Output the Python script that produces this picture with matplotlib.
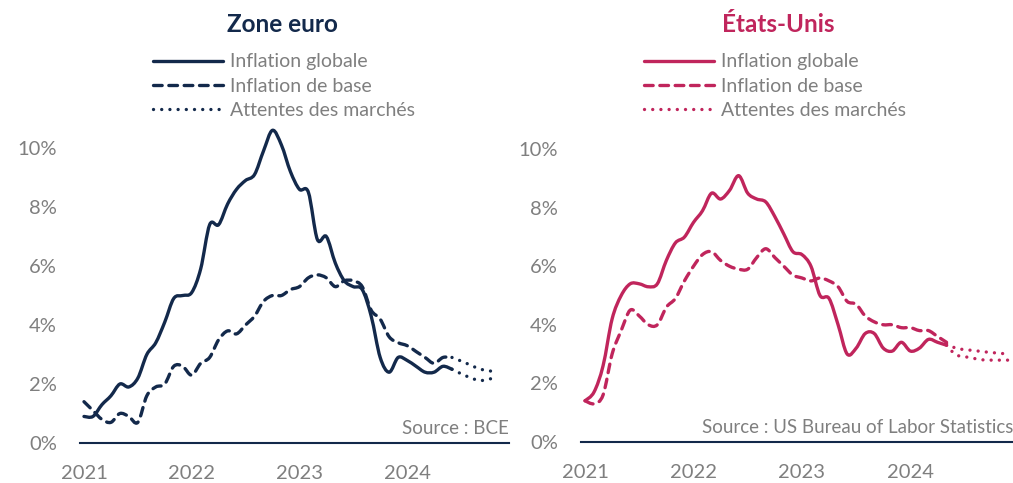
import matplotlib
matplotlib.use("Agg")
import matplotlib.pyplot as plt
from matplotlib.lines import Line2D
from matplotlib.path import Path
from matplotlib.patches import PathPatch
import numpy as np

plt.rcParams['font.family'] = ['Lato', 'DejaVu Sans']

# Monthly data, Jan 2021 onwards
ez_headline = [0.9, 0.9, 1.3, 1.6, 2.0, 1.9, 2.2, 3.0, 3.4, 4.1, 4.9, 5.0,
               5.1, 5.9, 7.4, 7.4, 8.1, 8.6, 8.9, 9.1, 9.9, 10.6, 10.1, 9.2,
               8.6, 8.5, 6.9, 7.0, 6.1, 5.5, 5.3, 5.2, 4.3, 2.9, 2.4, 2.9,
               2.8, 2.6, 2.4, 2.4, 2.6, 2.5]
ez_core = [1.4, 1.1, 0.8, 0.7, 1.0, 0.9, 0.7, 1.6, 1.9, 2.0, 2.6, 2.6,
           2.3, 2.7, 2.9, 3.5, 3.8, 3.7, 4.0, 4.3, 4.8, 5.0, 5.0, 5.2,
           5.3, 5.6, 5.7, 5.6, 5.3, 5.5, 5.5, 5.3, 4.5, 4.2, 3.6, 3.4,
           3.3, 3.1, 2.9, 2.7, 2.9, 2.9]
# market expectations, Jun 2024 -> Nov 2024
ez_exp_headline = [2.5, 2.35, 2.22, 2.12, 2.15, 2.25]
ez_exp_core = [2.9, 2.78, 2.65, 2.52, 2.45, 2.42]

us_headline = [1.4, 1.7, 2.6, 4.2, 5.0, 5.4, 5.4, 5.3, 5.4, 6.2, 6.8, 7.0,
               7.5, 7.9, 8.5, 8.3, 8.6, 9.1, 8.5, 8.3, 8.2, 7.7, 7.1, 6.5,
               6.4, 6.0, 5.0, 4.9, 4.0, 3.0, 3.2, 3.7, 3.7, 3.2, 3.1, 3.4,
               3.1, 3.2, 3.5, 3.4, 3.3]
us_core = [1.4, 1.3, 1.6, 3.0, 3.8, 4.5, 4.3, 4.0, 4.0, 4.6, 4.9, 5.5,
           6.0, 6.4, 6.5, 6.2, 6.0, 5.9, 5.9, 6.3, 6.6, 6.3, 6.0, 5.7,
           5.6, 5.5, 5.6, 5.5, 5.3, 4.8, 4.7, 4.3, 4.1, 4.0, 4.0, 3.9,
           3.9, 3.8, 3.8, 3.6, 3.4]
# market expectations, May 2024 -> Dec 2024
us_exp_headline = [3.3, 2.98, 2.91, 2.85, 2.8, 2.79, 2.79, 2.79]
us_exp_core = [3.35, 3.2, 3.15, 3.12, 3.08, 3.05, 3.02, 3.0]

years = [2021, 2022, 2023, 2024]
yticks = [0, 2, 4, 6, 8, 10]

NAVY = "#13294b"
CRIMSON = "#c0255c"
GRAY = "#7f7f7f"

W, H = 1013, 483
fig = plt.figure(figsize=(W / 100, H / 100), dpi=100)

LW = 2.4
DASH = (0, (2.6, 2.0))
DOT = (0, (0.01, 2.45))


def months(n, start=0):
    return 2021 + (start + np.arange(n)) / 12.0


def px(x, y):
    return x / W, 1 - y / H


def smooth_line(ax, x, y, color, ls):
    # Excel-style smoothed line: bezier segments through every data point
    pts = np.column_stack([x, y])
    n = len(pts)
    verts = [pts[0]]
    codes = [Path.MOVETO]
    for i in range(n - 1):
        p0 = pts[max(i - 1, 0)]
        p1 = pts[i]
        p2 = pts[i + 1]
        p3 = pts[min(i + 2, n - 1)]
        c1 = p1 + (p2 - p0) / 6.0
        c2 = p2 - (p3 - p1) / 6.0
        verts += [c1, c2, p2]
        codes += [Path.CURVE4] * 3
    patch = PathPatch(Path(verts, codes), fill=False, edgecolor=color,
                      lw=LW, linestyle=ls, capstyle='round',
                      joinstyle='round')
    ax.add_patch(patch)


def panel(rect, color, headline, core, exp_h, exp_c, title, title_x,
          leg_x, source):
    ax = fig.add_axes(rect)
    n = len(headline)
    smooth_line(ax, months(n), headline, color, '-')
    smooth_line(ax, months(len(core)), core, color, DASH)
    smooth_line(ax, months(len(exp_h), n - 1), exp_h, color, DOT)
    smooth_line(ax, months(len(exp_c), n - 1), exp_c, color, DOT)

    ax.set_xlim(2020.963, 2024.946)
    ax.set_ylim(0, 11)
    ax.set_yticks(yticks)
    ax.set_yticklabels([f"{v}%" for v in yticks])
    ax.set_xticks(years)
    ax.set_xticklabels([str(y) for y in years])
    ax.tick_params(axis='y', length=0, pad=16.5, labelsize=14.5,
                   labelcolor=GRAY)
    ax.tick_params(axis='x', length=0, pad=16, labelsize=14.5,
                   labelcolor=GRAY)
    for s in ['top', 'right', 'left']:
        ax.spines[s].set_visible(False)
    ax.spines['bottom'].set_color(NAVY)
    ax.spines['bottom'].set_linewidth(1.5)
    ax.patch.set_alpha(0)

    ax.text(1.0, 0.3, source, transform=ax.get_yaxis_transform(),
            ha='right', va='baseline', fontsize=13.5, color=GRAY)

    # title
    tx, ty = px(title_x, 31.7)
    fig.text(tx, ty, title, ha='center', va='baseline', fontsize=17.5,
             fontweight='bold', color=color)

    # legend
    labels = ["Inflation globale", "Inflation de base", "Attentes des marchés"]
    styles = ['-', DASH, DOT]
    for i, (lab, st) in enumerate(zip(labels, styles)):
        yrow = 60.7 + i * 24.3
        x0, y0 = px(leg_x, yrow)
        x1, _ = px(leg_x + 70, yrow)
        fig.add_artist(Line2D([x0, x1], [y0, y0], transform=fig.transFigure,
                              color=color, lw=LW, linestyle=st,
                              solid_capstyle='round', dash_capstyle='round'))
        lx, ly = px(leg_x + 77, yrow + 6.6)
        fig.text(lx, ly, lab, ha='left', va='baseline', fontsize=14,
                 color=GRAY)
    return ax


panel([80 / W, 40 / H, 429 / W, 324.5 / H], NAVY, ez_headline, ez_core,
      ez_exp_headline, ez_exp_core, "Zone euro", 282, 153, "Source : BCE")
panel([581 / W, 41.3 / H, 432 / W, 321.6 / H], CRIMSON, us_headline,
      us_core, us_exp_headline, us_exp_core, "États-Unis", 778, 644,
      "Source : US Bureau of Labor Statistics")

fig.savefig("out.png", dpi=100)
